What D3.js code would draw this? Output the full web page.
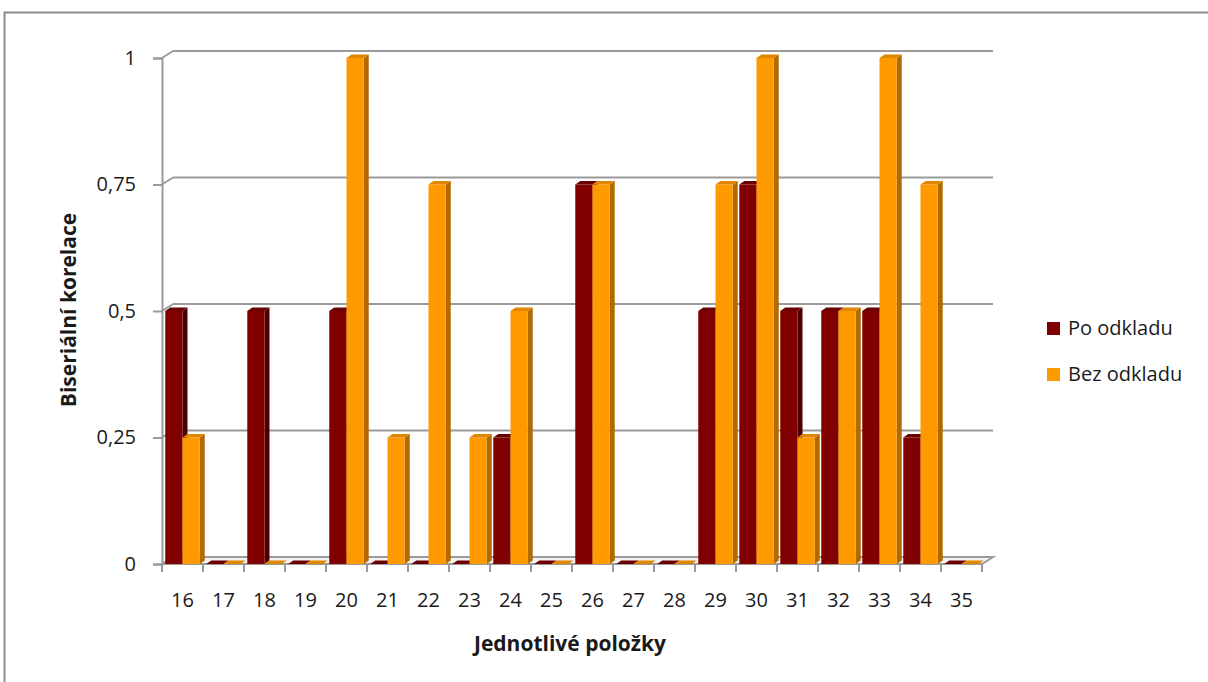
<!DOCTYPE html>
<html>
<head>
<meta charset="utf-8">
<script src="https://cdn.jsdelivr.net/npm/d3@7"></script>
<style>
  html, body { margin: 0; padding: 0; background: #fff; }
  svg { display: block; font-family: "Open Sans", "Noto Sans", "Liberation Sans", sans-serif; }
</style>
</head>
<body>
<svg id="chart" width="1208" height="682"></svg>
<script>
// Item numbers and biserial correlation for each group
const categories = ["16","17","18","19","20","21","22","23","24","25","26","27","28","29","30","31","32","33","34","35"];
const poOdkladu  = [0.5, 0, 0.5, 0, 0.5, 0, 0, 0, 0.25, 0, 0.75, 0, 0, 0.5, 0.75, 0.5, 0.5, 0.5, 0.25, 0];
const bezOdkladu = [0.25, 0, 0, 0, 1, 0.25, 0.75, 0.25, 0.5, 0, 0.75, 0, 0, 0.75, 1, 0.25, 0.5, 1, 0.75, 0];
const yTicks = [0, 0.25, 0.5, 0.75, 1];
const yTickLabels = ["0", "0,25", "0,5", "0,75", "1"];
const seriesNames = ["Po odkladu", "Bez odkladu"];

const palette = [
  { front: "#800000", side: "#4a0000", top: "#6a0000" },
  { front: "#ff9900", side: "#b06a00", top: "#e08600" }
];

const textColor = "#1a1a1a";
const svg = d3.select("#chart");

// Outer chart frame
svg.append("rect")
  .attr("x", 4.5).attr("y", 12.5).attr("width", 1260).attr("height", 720)
  .attr("fill", "#fff").attr("stroke", "#8c8c8c").attr("stroke-width", 2);

// Plot geometry: front plane plus a shallow depth offset for the back wall
const left = 162, right = 982, depthX = 11, depthY = -7;
const x = d3.scaleBand().domain(categories).range([left, right]).paddingInner(0).paddingOuter(0);
const y = d3.scaleLinear().domain([0, 1]).range([564, 58]);
const sub = d3.scaleBand().domain([0, 1]).range([0, x.bandwidth()]).paddingInner(0).paddingOuter(0.19);

const gridColor = "#9a9a9a";

// Floor
svg.append("path")
  .attr("d", `M${left},${y(0)} L${right},${y(0)} L${right + depthX},${y(0) + depthY} L${left + depthX},${y(0) + depthY} Z`)
  .attr("fill", "#f4f4f4").attr("stroke", gridColor).attr("stroke-width", 2);

// Back-wall gridlines and left-wall edges
const grid = svg.append("g");
yTicks.forEach(v => {
  grid.append("line")
    .attr("x1", left + depthX).attr("x2", right + depthX)
    .attr("y1", y(v) + depthY).attr("y2", y(v) + depthY)
    .attr("stroke", gridColor).attr("stroke-width", 2);
  grid.append("line")
    .attr("x1", left).attr("x2", left + depthX)
    .attr("y1", y(v)).attr("y2", y(v) + depthY)
    .attr("stroke", gridColor).attr("stroke-width", 2);
});

// Value axis
const yAxis = d3.axisLeft(y).tickValues(yTicks).tickSize(9).tickPadding(17)
  .tickFormat((d, i) => yTickLabels[i]);
const yg = svg.append("g").attr("transform", `translate(${left},0)`).call(yAxis);
yg.select(".domain").attr("stroke", gridColor).attr("stroke-width", 2);
yg.selectAll(".tick line").attr("stroke", gridColor).attr("stroke-width", 2);
yg.selectAll(".tick text").attr("font-size", 20).attr("fill", textColor)
  .attr("font-family", "'Open Sans', sans-serif");

// Category axis
const xAxis = d3.axisBottom(x).tickSize(0).tickPadding(0);
const xg = svg.append("g").attr("transform", `translate(0,${y(0)})`).call(xAxis);
xg.select(".domain").remove();
xg.selectAll(".tick text").attr("font-size", 20).attr("fill", textColor)
  .attr("font-family", "'Open Sans', sans-serif")
  .attr("y", 43).attr("dy", 0);
// Tick marks at category boundaries
svg.append("g").selectAll("line")
  .data(d3.range(categories.length + 1))
  .join("line")
  .attr("x1", i => left + i * x.bandwidth()).attr("x2", i => left + i * x.bandwidth())
  .attr("y1", y(0)).attr("y2", y(0) + 8)
  .attr("stroke", gridColor).attr("stroke-width", 2);

// 3D columns
const bdx = 5, bdy = -3.5;
const barW = sub.bandwidth();
const bars = svg.append("g");
categories.forEach((c, i) => {
  [poOdkladu[i], bezOdkladu[i]].forEach((v, s) => {
    const x0 = x(c) + sub(s), x1 = x0 + barW;
    const yt = y(v), yb = y(0);
    const col = palette[s];
    const g = bars.append("g");
    if (v > 0) {
      g.append("path")
        .attr("d", `M${x1},${yb} L${x1 + bdx},${yb + bdy} L${x1 + bdx},${yt + bdy} L${x1},${yt} Z`)
        .attr("fill", col.side);
      g.append("rect")
        .attr("x", x0).attr("y", yt).attr("width", barW).attr("height", yb - yt)
        .attr("fill", col.front);
    }
    g.append("path")
      .attr("d", `M${x0},${yt} L${x1},${yt} L${x1 + bdx},${yt + bdy} L${x0 + bdx},${yt + bdy} Z`)
      .attr("fill", col.top);
  });
});

// Axis titles
svg.append("text")
  .attr("transform", "translate(76,310) rotate(-90)")
  .attr("text-anchor", "middle")
  .attr("font-size", 21).attr("font-weight", "bold").attr("fill", textColor)
  .text("Biseriální korelace");
svg.append("text")
  .attr("x", 570).attr("y", 651)
  .attr("text-anchor", "middle")
  .attr("font-size", 21).attr("font-weight", "bold").attr("fill", textColor)
  .text("Jednotlivé položky");

// Legend
const legend = svg.append("g").attr("transform", "translate(1047,322)");
seriesNames.forEach((name, i) => {
  const g = legend.append("g").attr("transform", `translate(0,${i * 46})`);
  g.append("rect").attr("width", 13).attr("height", 13).attr("fill", palette[i].front);
  g.append("text").attr("x", 21).attr("y", 13)
    .attr("font-size", 20).attr("fill", textColor).text(name);
});
</script>
</body>
</html>
